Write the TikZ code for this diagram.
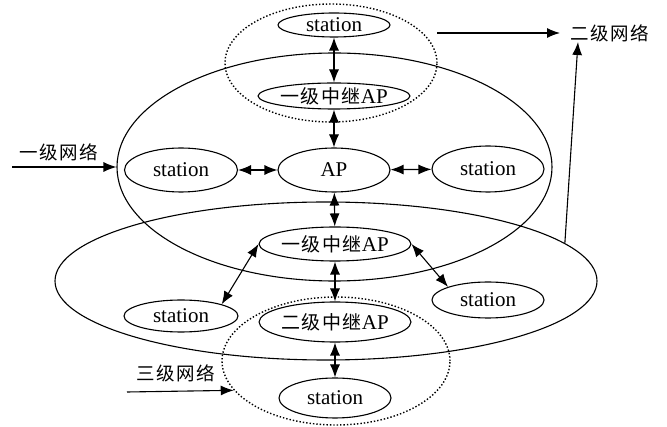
\documentclass[tikz,border=0pt]{standalone}
\usepackage{fontspec}
\setmainfont{Liberation Serif}
\newfontfamily\cjk[LetterSpace=8]{Noto Sans CJK SC}
\usetikzlibrary{shapes.geometric,arrows.meta}
\begin{document}
\begin{tikzpicture}[x=1pt,y=-1pt,
  el/.style={draw,ellipse,line width=1.1pt,inner sep=0pt,font=\fontsize{21}{21}\selectfont},
  big/.style={draw,ellipse,line width=1.1pt,inner sep=0pt},
  dot/.style={draw,ellipse,dotted,line width=1.4pt,inner sep=0pt},
  dbl/.style={{Latex[length=13pt,width=10pt]}-{Latex[length=13pt,width=10pt]},line width=1.1pt},
  arr/.style={-{Latex[length=13pt,width=10pt]},line width=1.1pt},
  lbl/.style={font=\cjk\fontsize{18.5}{18.5}\selectfont,inner sep=0pt}]
\useasboundingbox (0,0) rectangle (667,427);
% big ellipses
\node[dot,minimum width=212,minimum height=118] (d1) at (331,63) {};
\node[big,minimum width=435,minimum height=228] (e1) at (334.5,167) {};
\node[big,minimum width=542,minimum height=158] (e2) at (326,281) {};
\node[dot,minimum width=228,minimum height=128] (d2) at (336,361) {};
% nodes
\node[el,minimum width=112,minimum height=24] (st1) at (334,25) {station};
\node[el,minimum width=142,minimum height=26] (r1) at (334,96) {{\cjk\fontsize{19}{19}\selectfont 一级中继}AP};
\node[el,minimum width=112,minimum height=44] (ap) at (334,170) {AP};
\node[el,minimum width=113,minimum height=44] (stl) at (181,170) {station};
\node[el,minimum width=112,minimum height=46] (str) at (488,169) {station};
\node[el,minimum width=126,minimum height=34] (r1b) at (335,244) {{\cjk\fontsize{19}{19}\selectfont 一级中继}AP};
\node[el,minimum width=114,minimum height=32] (stbl) at (181,316) {station};
\node[el,minimum width=112,minimum height=36] (stbr) at (488,300) {station};
\node[el,minimum width=134,minimum height=40] (r2) at (335,322) {{\cjk\fontsize{19}{19}\selectfont 二级中继}AP};
\node[el,minimum width=112,minimum height=40] (stb) at (335,398) {station};
% labels
\node[lbl] (l1) at (59,152) {一级网络};
\node[lbl] (l2) at (610,33) {二级网络};
\node[lbl] (l3) at (176,373) {三级网络};
\coordinate (l1s) at (12,167);
\coordinate (l2s) at (437,33);
\coordinate (l2t) at (560,33);
\coordinate (l2v) at (578,42);
\coordinate (l3s) at (127,392);
% connectors
\draw[dbl] (st1) -- (r1);
\draw[dbl] (r1) -- (ap);
\draw[dbl] (stl) -- (ap);
\draw[dbl] (ap) -- (str);
\draw[dbl] (ap) -- (r1b);
\draw[dbl] (r1b) -- (r2);
\draw[dbl] (r2) -- (stb);
\draw[dbl] (r1b.west) -- (stbl.north east);
\draw[dbl] (r1b.east) -- (stbr.north west);
\draw[arr] (l1s) -- (e1.west);
\draw[arr] (l2s) -- (l2t);
\draw[arr] (e2.9) -- (l2v);
\draw[arr] (l3s) -- (d2.196);
\end{tikzpicture}
\end{document}
